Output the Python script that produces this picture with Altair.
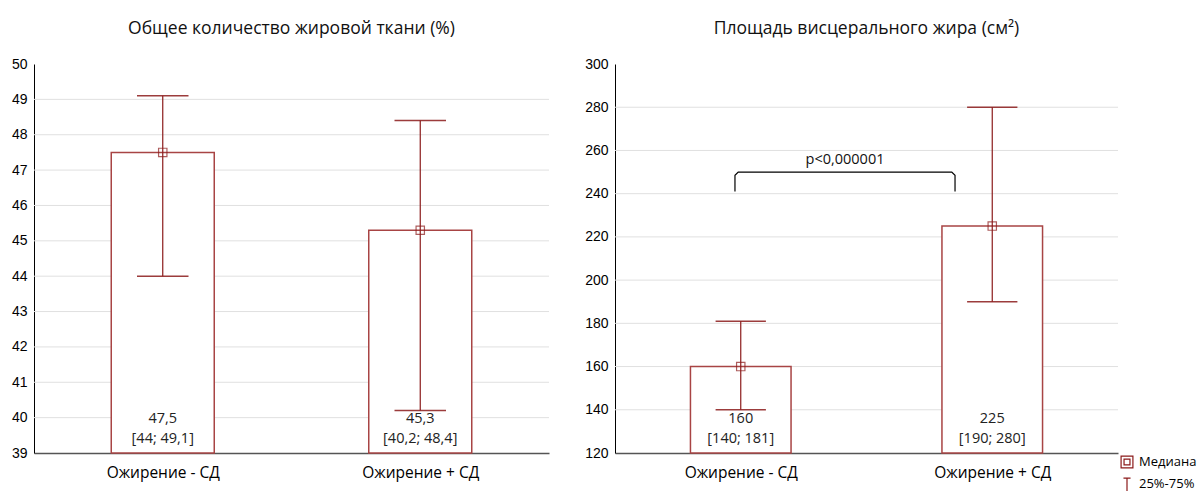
import altair as alt
import pandas as pd

# ---- data ----
groups = ["Ожирение - СД", "Ожирение + СД"]
fat_median = [47.5, 45.3]
fat_q1 = [44, 40.2]
fat_q3 = [49.1, 48.4]
fat_ticks = [39, 40, 41, 42, 43, 44, 45, 46, 47, 48, 49, 50]

visc_median = [160, 225]
visc_q1 = [140, 190]
visc_q3 = [181, 280]
visc_ticks = [120, 140, 160, 180, 200, 220, 240, 260, 280, 300]

p_text = "p<0,000001"
bracket_x = [0.477, 0.477, 0.49, 1.339, 1.352, 1.352]
bracket_y = [241, 248.5, 250, 250, 248.5, 241]

legend_labels = ["Медиана", "25%-75%"]

title_left = "Общее количество жировой ткани (%)"
title_right = "Площадь висцерального жира (см²)"

DARK = "#8B1A1A"
BAR = "#A84444"
FONT_TXT = "Open Sans"
FONT_NUM = "Liberation Sans"


def fmt(v):
    s = ("%g" % v)
    return s.replace(".", ",")


def panel(title, med, q1, q3, ticks, width, extra=None):
    base_v = ticks[0]
    df = pd.DataFrame({
        "group": groups,
        "xc": [0.5, 1.5],
        "median": med,
        "q1": q1,
        "q3": q3,
        "base": [base_v] * len(groups),
        "l1": [fmt(m) for m in med],
        "l2": ["[" + fmt(a) + "; " + fmt(b) + "]" for a, b in zip(q1, q3)],
    })
    label_expr = "datum.value == 0.5 ? '%s' : '%s'" % (groups[0], groups[1])
    xscale = alt.Scale(domain=[0, 2], nice=False, zero=False)
    yscale = alt.Scale(domain=[ticks[0], ticks[-1]], nice=False, zero=False)
    xaxis = alt.Axis(values=[0.5, 1.5], labelExpr=label_expr, title=None, ticks=False,
                     grid=False, domainColor="#555555", domainWidth=1.5,
                     labelFont=FONT_TXT, labelFontSize=15.5, labelColor="black", labelPadding=12)
    yaxis = alt.Axis(values=ticks, title=None, ticks=False, grid=False, domainColor="black",
                     labelFont=FONT_NUM, labelFontSize=14, labelColor="black", labelPadding=7,
                     labelOverlap=False, labelBound=False, tickCount=len(ticks))

    base = alt.Chart(df)
    grid_df = pd.DataFrame({"g": ticks[1:-1]})
    grid = alt.Chart(grid_df).mark_rule(color="#e0e0e0", strokeWidth=1).encode(
        y=alt.Y("g:Q", scale=yscale, axis=yaxis),
        x=alt.datum(0, scale=xscale, axis=xaxis),
        x2=alt.datum(2),
    )
    bars = base.transform_calculate(
        xl="datum.xc - 0.2", xr="datum.xc + 0.2"
    ).mark_bar(fill="white", stroke=BAR, strokeWidth=1.5).encode(
        x=alt.X("xl:Q", scale=xscale, axis=xaxis),
        x2="xr:Q",
        y=alt.Y("median:Q", scale=yscale, axis=yaxis),
        y2="base:Q",
    )
    whisk = base.mark_rule(color=DARK, strokeWidth=1.2).encode(
        x=alt.X("xc:Q", scale=xscale, axis=xaxis),
        y=alt.Y("q1:Q", scale=yscale, axis=yaxis),
        y2="q3:Q",
    )
    caps = base.transform_fold(["q1", "q3"], as_=["k", "v"]).transform_calculate(
        xl="datum.xc - 0.1", xr="datum.xc + 0.1"
    ).mark_rule(color=DARK, strokeWidth=1.5, opacity=0.85).encode(
        x=alt.X("xl:Q", scale=xscale, axis=xaxis),
        x2="xr:Q",
        y=alt.Y("v:Q", scale=yscale, axis=yaxis),
    )
    meds = base.mark_point(shape="square", size=70, color=DARK, filled=False,
                           strokeWidth=1.2).encode(
        x=alt.X("xc:Q", scale=xscale, axis=xaxis),
        y=alt.Y("median:Q", scale=yscale, axis=yaxis),
    )
    text1 = base.mark_text(font=FONT_TXT, fontSize=14.5, color="#222222",
                           baseline="middle", dy=-34).encode(
        x=alt.X("xc:Q", scale=xscale, axis=xaxis),
        y=alt.Y("base:Q", scale=yscale, axis=yaxis),
        text="l1:N",
    )
    text2 = base.mark_text(font=FONT_TXT, fontSize=14.5, color="#222222",
                           baseline="middle", dy=-14).encode(
        x=alt.X("xc:Q", scale=xscale, axis=xaxis),
        y=alt.Y("base:Q", scale=yscale, axis=yaxis),
        text="l2:N",
    )
    layers = [grid, bars, whisk, caps, meds, text1, text2]
    if extra:
        layers += extra(xscale, yscale, xaxis, yaxis)
    return alt.layer(*layers).properties(
        width=width, height=389,
        title=alt.TitleParams(title, font=FONT_TXT, fontSize=17.5, fontWeight="normal",
                              color="#111111", offset=20, anchor="middle"),
    )


def right_extra(xscale, yscale, xaxis, yaxis):
    bdf = pd.DataFrame({"bx": bracket_x, "by": bracket_y, "o": list(range(len(bracket_x)))})
    bracket = alt.Chart(bdf).mark_line(color="black", strokeWidth=1.2).encode(
        x=alt.X("bx:Q", scale=xscale, axis=xaxis),
        y=alt.Y("by:Q", scale=yscale, axis=yaxis),
        order="o:Q",
    )
    tdf = pd.DataFrame({"tx": [(bracket_x[0] + bracket_x[-1]) / 2], "ty": [max(bracket_y)], "t": [p_text]})
    ptxt = alt.Chart(tdf).mark_text(font=FONT_TXT, fontSize=14.5, color="#111111",
                                    baseline="bottom", dy=-5).encode(
        x=alt.X("tx:Q", scale=xscale, axis=xaxis),
        y=alt.Y("ty:Q", scale=yscale, axis=yaxis),
        text="t:N",
    )
    ldf = pd.DataFrame({"lab": legend_labels})
    sq = "M-1,-1H1V1H-1Z M-0.5,-0.5H0.5V0.5H-0.5Z"
    tee = "M-0.6,-1H0.6M0,-1V1.2"
    leg = alt.Chart(ldf).mark_point(opacity=0).encode(
        shape=alt.Shape("lab:N", scale=alt.Scale(domain=legend_labels, range=[sq, tee]),
                        legend=alt.Legend(title=None, orient="none", legendX=505, legendY=391,
                                          symbolStrokeColor=DARK, symbolFillColor="transparent",
                                          symbolOpacity=1, symbolStrokeWidth=1.2, symbolSize=140,
                                          labelFont=FONT_TXT, labelFontSize=13, labelColor="black",
                                          rowPadding=4, labelOffset=5)),
    )
    return [bracket, ptxt, leg]


left = panel(title_left, fat_median, fat_q1, fat_q3, fat_ticks, 515)
right = panel(title_right, visc_median, visc_q1, visc_q3, visc_ticks, 503, right_extra)

chart = alt.hconcat(left, right, spacing=34).resolve_scale(
    x="independent", y="independent", shape="independent"
).resolve_legend(shape="independent").properties(
    padding={"left": 11, "top": 19, "right": 0, "bottom": 0},
    background="white",
).configure_view(stroke=None).configure_axis(labelOverlap=False)

chart.save("out.html", embed_options={"renderer": "svg", "actions": False})
